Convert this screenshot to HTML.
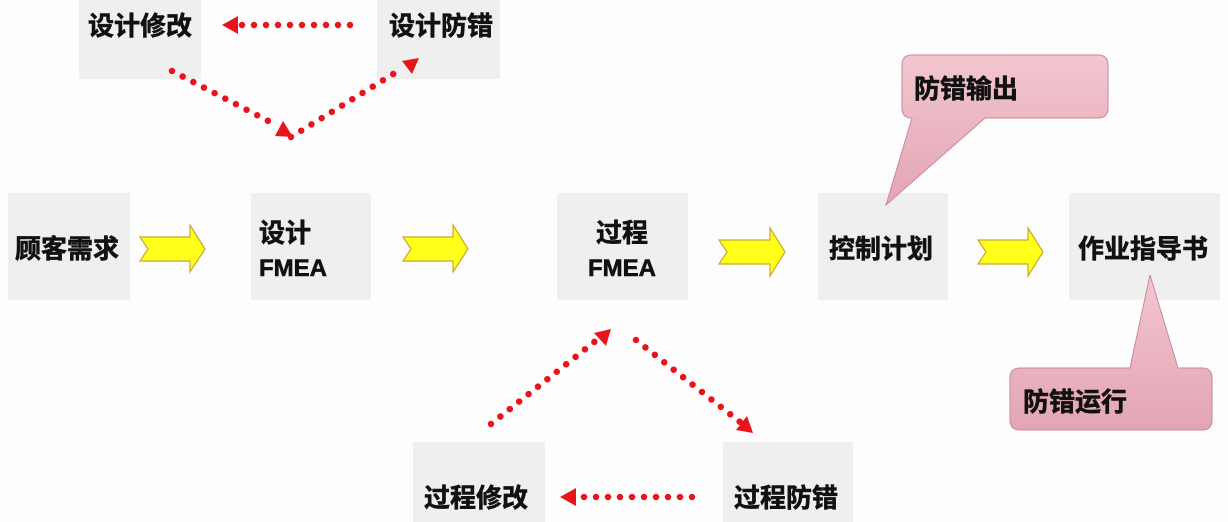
<!DOCTYPE html>
<html><head><meta charset="utf-8"><style>
html,body{margin:0;padding:0;background:#fdfdfd;}
svg{display:block;}
text{font-family:"Liberation Sans","Noto Sans CJK SC",sans-serif;font-weight:bold;fill:#111;stroke:#111;stroke-width:0.6;}
</style></head><body>
<svg width="1228" height="522" viewBox="0 0 1228 522" xmlns="http://www.w3.org/2000/svg">
<defs>
<linearGradient id="pk" x1="0" y1="0" x2="0" y2="1"><stop offset="0" stop-color="#f2c6d0"/><stop offset="1" stop-color="#e3a5b3"/></linearGradient>
</defs>
<g fill="#efefef">
<rect x="79" y="0" width="122" height="79"/>
<rect x="377" y="0" width="123" height="79"/>
<rect x="8" y="193" width="122" height="107"/>
<rect x="251" y="193" width="120" height="107"/>
<rect x="557" y="193" width="131" height="107"/>
<rect x="818" y="193" width="130" height="107"/>
<rect x="1069" y="193" width="151" height="107"/>
<rect x="413" y="442" width="132" height="80"/>
<rect x="723" y="442" width="130" height="80"/>
</g>
<g font-size="26">
<text x="88" y="35">设计修改</text>
<text x="389" y="35">设计防错</text>
<text x="15" y="258">顾客需求</text>
<text x="259" y="242">设计</text>
<text x="259" y="276" font-size="24">FMEA</text>
<text x="622" y="242" text-anchor="middle">过程</text>
<text x="622" y="276" text-anchor="middle" font-size="24">FMEA</text>
<text x="829" y="258">控制计划</text>
<text x="1078" y="258">作业指导书</text>
<text x="424" y="507">过程修改</text>
<text x="734" y="507">过程防错</text>
</g>
<!-- yellow arrows -->
<g fill="#ffff1a" stroke="#c8a830" stroke-width="1.2">
<path d="M140,237 L190,237 L190,225 L205,249 L190,272 L190,261 L140,261 L148,249 Z"/>
<path d="M403,237 L453,237 L453,225 L468,249 L453,272 L453,261 L403,261 L411,249 Z"/>
<path d="M719,240 L770,240 L770,228 L785,252 L770,276 L770,264 L719,264 L727,252 Z"/>
<path d="M978,240 L1028,240 L1028,228 L1043,252 L1028,276 L1028,264 L978,264 L986,252 Z"/>
</g>
<!-- red dotted -->
<g stroke="#e8141c" stroke-width="6.5" stroke-linecap="round" stroke-dasharray="0 12" fill="none">
<path d="M350,25 L240,25"/>
<path d="M172,71 L276,125"/>
<path d="M291,137 L403,68"/>
<path d="M491,424 L598,339"/>
<path d="M636,340 L740,422"/>
<path d="M692,497 L578,497"/>
</g>
<g fill="#e8141c">
<path d="M222,25 L238,16 L238,34 Z"/>
<path d="M293,137 L275,136 L283,121 Z"/>
<path d="M419,58 L412,74 L402,61 Z"/>
<path d="M611,329 L606,346 L594,333 Z"/>
<path d="M753,433 L736,430 L747,416 Z"/>
<path d="M560,497 L576,488 L576,506 Z"/>
</g>
<!-- callouts -->
<path d="M912,55 L1098,55 Q1108,55 1108,65 L1108,108 Q1108,118 1098,118 L985,118 L886,205 L912,118 Q902,118 902,108 L902,65 Q902,55 912,55 Z" fill="url(#pk)" stroke="#c98898" stroke-width="1"/>
<path d="M1020,368 L1130,368 L1150,275 L1178,368 L1202,368 Q1212,368 1212,378 L1212,420 Q1212,430 1202,430 L1020,430 Q1010,430 1010,420 L1010,378 Q1010,368 1020,368 Z" fill="url(#pk)" stroke="#c98898" stroke-width="1"/>
<g font-size="26">
<text x="914" y="98">防错输出</text>
<text x="1023" y="411">防错运行</text>
</g>
</svg>
</body></html>
